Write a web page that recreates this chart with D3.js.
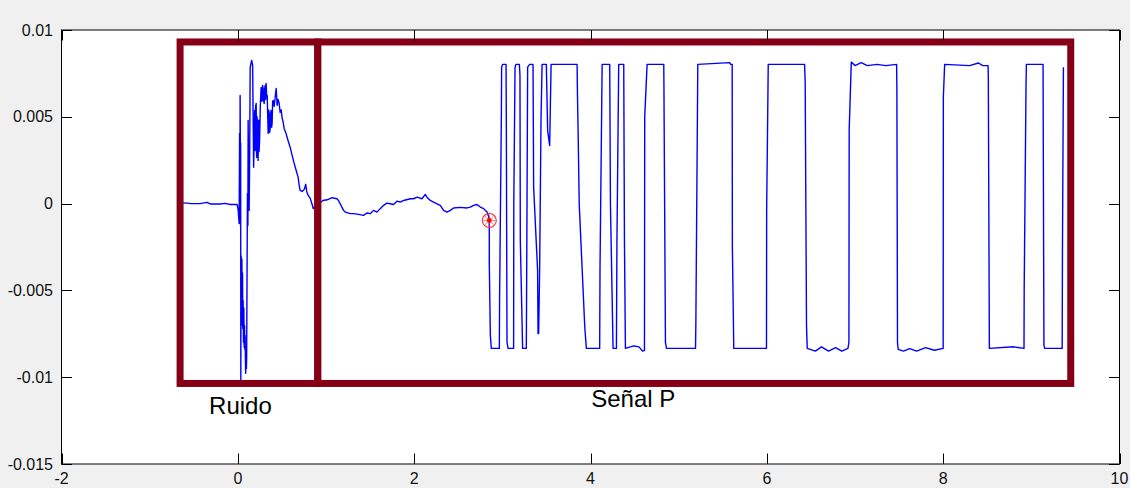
<!DOCTYPE html>
<html>
<head>
<meta charset="utf-8">
<script src="https://cdn.jsdelivr.net/npm/d3@7"></script>
<style>
  html, body { margin: 0; padding: 0; background: #f0f0f0; }
  svg { display: block; }
  text { font-family: "Liberation Sans", Arial, sans-serif; }
</style>
</head>
<body>
<svg id="chart" width="1130" height="488"></svg>
<script>
// ---- data ----
const xTicks = [-2, 0, 2, 4, 6, 8, 10];
const xTickLabels = ["-2", "0", "2", "4", "6", "8", "10"];
const yTicks = [0.01, 0.005, 0, -0.005, -0.01, -0.015];
const yTickLabels = ["0.01", "0.005", "0", "-0.005", "-0.01", "-0.015"];

const noiseT = [-0.621,-0.541,-0.428,-0.349,-0.314,-0.201,-0.144,-0.087,-0.008,
  0.003,0.015,0.020,0.023,0.026,0.028,0.030,0.032,0.034,0.037,0.041,0.044,0.046,0.049,0.053,0.056,0.060,
  0.064,0.068,0.072,0.076,0.080,0.083,0.086,0.089,0.093,0.097,0.100,
  0.109,0.114,0.117,0.125,0.128,0.134,0.140,0.157,0.168,0.179,0.191,0.196,0.202,0.208,
  0.213,0.218,0.225,0.230,0.236,0.241,0.247,0.255,0.264,0.270,0.276,0.281,0.287,0.293,0.299,0.304,0.310,0.315,0.321,0.327,0.333,0.344,0.350,0.355,
  0.361,0.367,0.372,0.378,0.384,0.389,0.395,0.401,0.412,0.423,0.435,0.446,0.457,0.469,0.480,0.492,0.503,0.514,0.525,0.543,0.560,0.577,0.594,0.616,
  0.639,0.662,0.684,0.696,0.707,0.730,0.753,0.770,0.781,0.798,0.821,0.843,0.855,0.866];
const noiseV = [0.00004,0.00001,0.00000,0.00007,-0.00002,-0.00002,0.00001,-0.00005,-0.00005,
  -0.00033,-0.00114,0.00404,-0.00100,0.00623,0.00380,-0.00126,0.00350,-0.01030,-0.00300,-0.00327,-0.00700,-0.00320,-0.00673,-0.00400,-0.00720,-0.00558,
  -0.00800,-0.00600,-0.00828,-0.00700,-0.00840,-0.00759,-0.00900,-0.00978,-0.00860,-0.00950,-0.00886,
  0.00059,-0.00126,0.00479,0.00001,-0.00039,0.00249,0.00784,0.00825,0.00796,0.00209,0.00537,0.00306,0.00560,0.00577,
  0.00266,0.00500,0.00422,0.00249,0.00480,0.00300,0.00364,0.00560,0.00669,0.00590,0.00594,0.00680,0.00664,0.00590,0.00577,0.00660,0.00681,0.00600,0.00692,0.00610,0.00623,0.00404,0.00540,0.00525,
  0.00410,0.00433,0.00520,0.00537,0.00440,0.00468,0.00590,0.00594,0.00560,0.00610,0.00664,0.00566,0.00600,0.00577,0.00525,0.00540,0.00491,0.00470,0.00433,0.00410,0.00381,0.00350,0.00324,0.00278,
  0.00232,0.00191,0.00151,0.00105,0.00076,0.00070,0.00082,0.00111,0.00070,0.00047,0.00030,-0.00005,-0.00028,-0.00022];

const quietT = [0.965,1.014,1.067,1.124,1.142,1.199,1.218,1.275,1.312,1.369,1.426,1.464,1.502,
  1.539,1.578,1.615,1.653,1.691,1.729,1.766,1.805,1.842,1.880,1.956,1.993,2.032,2.089,2.126,
  2.145,2.183,2.220,2.259,2.296,2.334,2.372,2.410,2.447,2.523,2.599,2.637,2.674,2.713,2.750,
  2.788,2.826,2.845,2.852];
const quietV = [0.00018,0.00022,0.00034,0.00028,0.00018,-0.00039,-0.00049,-0.00058,-0.00058,-0.00062,-0.00068,-0.00054,-0.00058,
  -0.00039,-0.00049,-0.00029,-0.00010,0.00003,-0.00001,-0.00005,0.00014,0.00009,0.00018,0.00028,0.00028,0.00037,0.00028,0.00053,
  0.00037,0.00018,0.00009,-0.00001,-0.00010,-0.00039,-0.00049,-0.00039,-0.00025,-0.00022,-0.00025,-0.00020,-0.00010,-0.00005,-0.00020,
  -0.00029,-0.00049,-0.00074,-0.00097];

const pulseT = [2.852,2.864,2.875,2.966,2.969,2.989,2.992,3.003,3.042,3.045,3.053,3.065,3.128,3.130,
  3.144,3.156,3.193,3.200,3.204,3.230,3.272,3.275,3.287,3.310,3.348,3.355,3.400,3.405,3.409,3.412,
  3.423,3.439,3.451,3.499,3.514,3.530,3.537,3.553,3.848,3.852,3.860,3.872,3.935,3.953,4.104,4.108,
  4.132,4.218,4.226,4.256,4.294,4.300,4.320,4.377,4.385,4.396,4.490,4.550,4.590,4.612,4.615,4.642,
  4.831,4.833,4.850,4.862,5.191,5.195,5.217,5.580,5.590,5.607,5.609,5.625,5.996,5.998,6.016,6.428,
  6.435,6.450,6.458,6.550,6.620,6.700,6.780,6.850,6.920,6.931,6.934,6.958,7.000,7.070,7.140,7.250,
  7.350,7.472,7.475,7.482,7.490,7.550,7.620,7.700,7.800,7.900,8.000,8.002,8.017,8.300,8.400,8.450,
  8.509,8.512,8.524,8.800,8.917,8.919,8.940,8.944,9.133,9.135,9.143,9.152,9.350,9.353,9.364];
const pulseV = [-0.00339,-0.00759,-0.00834,-0.00834,-0.00539,0.00508,0.00786,0.00802,0.00802,0.00508,-0.00800,-0.00834,-0.00834,0.00000,
  0.00786,0.00802,0.00802,0.00740,-0.00212,-0.00834,-0.00834,-0.00539,0.00786,0.00802,0.00802,0.00095,-0.00385,-0.00748,-0.00558,-0.00748,
  -0.00385,0.00498,0.00802,0.00802,0.00422,0.00360,0.00335,0.00802,0.00802,0.00633,0.00403,0.00000,-0.00711,-0.00834,-0.00834,-0.00366,
  0.00802,0.00802,0.00000,-0.00834,-0.00834,-0.00212,0.00802,0.00802,-0.00212,-0.00834,-0.00820,-0.00825,-0.00850,-0.00845,0.00498,0.00802,
  0.00802,0.00671,-0.00800,-0.00834,-0.00834,-0.00692,0.00802,0.00812,0.00802,0.00802,-0.00241,-0.00834,-0.00834,-0.00039,0.00802,0.00802,
  0.00700,-0.00700,-0.00834,-0.00850,-0.00825,-0.00850,-0.00830,-0.00850,-0.00834,-0.00800,0.00422,0.00815,0.00795,0.00812,0.00795,0.00802,
  0.00795,0.00802,0.00671,-0.00800,-0.00840,-0.00850,-0.00835,-0.00850,-0.00830,-0.00845,-0.00834,0.00613,0.00802,0.00795,0.00810,0.00795,
  0.00795,0.00740,-0.00834,-0.00825,-0.00834,-0.00490,0.00690,0.00802,0.00802,0.00441,-0.00817,-0.00834,-0.00834,-0.00270,0.00786];

// marker (picked point)
const markerT = [2.852];
const markerV = [-0.00097];

// annotation regions
const regionNames = ["Ruido", "Señal P"];
const regionX0 = [-0.655, 0.906];
const regionX1 = [0.906, 9.447];
const regionYTop = 0.00931;
const regionYBottom = -0.01036;
const labelX = [-0.326, 4.008];
const labelY = [-0.01212, -0.01172];

// ---- layout ----
const W = 1130, H = 488;
const plot = { left: 61.5, right: 1119.5, top: 30, bottom: 464 };

const svg = d3.select("#chart");
const x = d3.scaleLinear().domain([-2, 10]).range([plot.left, plot.right]);
const y = d3.scaleLinear().domain([-0.015, 0.01]).range([plot.bottom, plot.top]);

svg.append("rect").attr("x", 0).attr("y", 0).attr("width", W).attr("height", H).attr("fill", "#f0f0f0");
svg.append("rect")
  .attr("x", plot.left).attr("y", plot.top)
  .attr("width", plot.right - plot.left).attr("height", plot.bottom - plot.top)
  .attr("fill", "#ffffff");

const pts = [];
[[noiseT, noiseV], [quietT, quietV], [pulseT, pulseV]].forEach(([T, V]) => {
  T.forEach((t, i) => pts.push([t, V[i]]));
});

const line = d3.line().x(d => x(d[0])).y(d => y(d[1]));
svg.append("path")
  .datum(pts)
  .attr("d", line)
  .attr("fill", "none")
  .attr("stroke", "#0000ff")
  .attr("stroke-width", 1.4)
  .attr("stroke-linejoin", "round");

// marker
const mk = svg.append("g").selectAll("g")
  .data(markerT.map((t, i) => [t, markerV[i]]))
  .join("g")
  .attr("transform", d => `translate(${x(d[0])},${y(d[1])})`)
  .attr("stroke", "#ff2a2a").attr("fill", "none").attr("stroke-width", 1.1);
mk.append("circle").attr("r", 7);
mk.append("path").attr("d", "M-6,0H6M0,-6V6M-4.2,-4.2L4.2,4.2M-4.2,4.2L4.2,-4.2").attr("stroke-width", 0.8).attr("opacity", 0.8);
mk.append("circle").attr("r", 2.4).attr("fill", "#ff0000").attr("stroke", "none");

// annotation boxes
const boxColor = "#850017";
svg.append("g").selectAll("rect")
  .data(regionNames.map((n, i) => ({ x0: regionX0[i], x1: regionX1[i] })))
  .join("rect")
  .attr("x", d => x(d.x0))
  .attr("y", y(regionYTop))
  .attr("width", d => x(d.x1) - x(d.x0))
  .attr("height", y(regionYBottom) - y(regionYTop))
  .attr("fill", "none")
  .attr("stroke", boxColor)
  .attr("stroke-width", 7);

svg.append("g").selectAll("text")
  .data(regionNames.map((n, i) => ({ n, x: labelX[i], y: labelY[i] })))
  .join("text")
  .attr("x", d => x(d.x))
  .attr("y", d => y(d.y))
  .attr("font-size", 24)
  .attr("fill", "#000")
  .text(d => d.n);

// axes frame
svg.append("rect")
  .attr("x", plot.left).attr("y", plot.top)
  .attr("width", plot.right - plot.left).attr("height", plot.bottom - plot.top)
  .attr("fill", "none").attr("stroke", "#000").attr("stroke-width", 1);

const tickLen = 10.5;
const axG = svg.append("g").attr("stroke", "#000").attr("stroke-width", 1);
axG.selectAll("line.xb").data(xTicks).join("line").attr("class", "xb")
  .attr("x1", d => Math.round(x(d)) + 0.5).attr("x2", d => Math.round(x(d)) + 0.5)
  .attr("y1", plot.bottom).attr("y2", plot.bottom - tickLen);
axG.selectAll("line.xt").data(xTicks).join("line").attr("class", "xt")
  .attr("x1", d => Math.round(x(d)) + 0.5).attr("x2", d => Math.round(x(d)) + 0.5)
  .attr("y1", plot.top).attr("y2", plot.top + tickLen);
axG.selectAll("line.yl").data(yTicks).join("line").attr("class", "yl")
  .attr("y1", d => Math.round(y(d)) + 0.5).attr("y2", d => Math.round(y(d)) + 0.5)
  .attr("x1", plot.left).attr("x2", plot.left + tickLen);
axG.selectAll("line.yr").data(yTicks).join("line").attr("class", "yr")
  .attr("y1", d => Math.round(y(d)) + 0.5).attr("y2", d => Math.round(y(d)) + 0.5)
  .attr("x1", plot.right).attr("x2", plot.right - tickLen);

svg.append("g").selectAll("text").data(xTicks).join("text")
  .attr("x", d => x(d)).attr("y", 484)
  .attr("text-anchor", "middle").attr("font-size", 16).attr("fill", "#111")
  .text((d, i) => xTickLabels[i]);
svg.append("g").selectAll("text").data(yTicks).join("text")
  .attr("x", 53).attr("y", d => y(d))
  .attr("dy", "0.35em")
  .attr("text-anchor", "end").attr("font-size", 16).attr("fill", "#111")
  .text((d, i) => yTickLabels[i]);
</script>
</body>
</html>
